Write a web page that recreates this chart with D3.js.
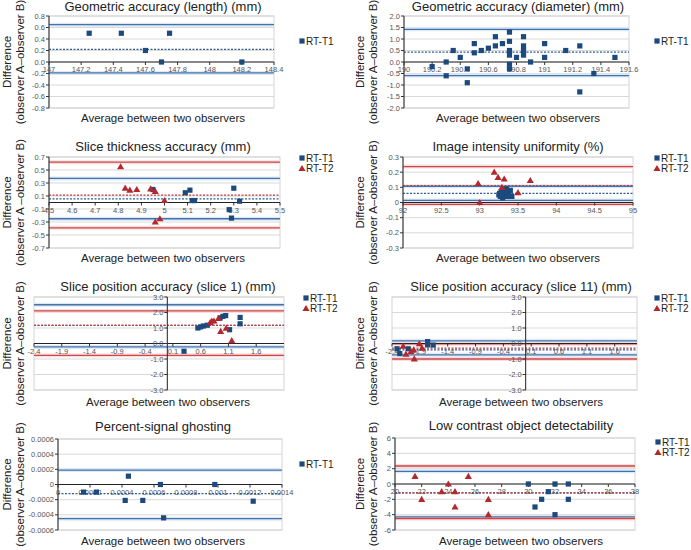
<!DOCTYPE html>
<html>
<head>
<meta charset="utf-8">
<script src="https://cdn.jsdelivr.net/npm/d3@7"></script>
<style>
  body { margin: 0; background: #fff; }
  text { font-family: "Liberation Sans", Arial, sans-serif; }
</style>
</head>
<body>
<svg id="chart" width="691" height="550"></svg>
<script>
// data: [average, difference]
const lengthT1 = [[147.25,0.5],[147.45,0.5],[147.6,0.2],[147.7,0],[147.75,0.5],[148.2,0]];
const lengthLimT1 = [0.65, 0.22, -0.19];   // upper, mean, lower

const diameterT1 = [[190.2,-0.2],[190.3,0],[190.3,-0.6],[190.35,0.5],[190.4,0.2],[190.45,-0.3],[190.45,-0.9],
  [190.5,0.8],[190.5,0.4],[190.55,0.5],[190.6,0.6],[190.65,1.1],[190.65,0.7],[190.7,0.8],[190.75,1.3],[190.75,0.9],
  [190.75,0.5],[190.75,0.3],[190.75,-0.1],[190.75,-0.3],[190.8,0.2],[190.85,1.1],[190.85,0.7],[190.85,0.5],
  [190.85,0.3],[190.9,0],[191,0.8],[191,0.2],[191.15,0.5],[191.25,0.7],[191.25,-1.3],[191.35,-0.5],[191.5,0.2]];
const diameterLimT1 = [1.42, 0.43, -0.59];

const thickT1 = [[4.95,0.2],[5.09,0.15],[5.11,0.19],[5.12,0.03],[5.13,0.03],[5.28,-0.11],[5.29,-0.24],[5.3,0.22],[5.325,0.02]];
const thickT2 = [[4.81,0.55],[4.83,0.22],[4.85,0.19],[4.88,0.2],[4.94,0.21],[4.96,0.17],[5.0,0.03],[4.96,-0.3],[4.98,-0.25]];
const thickLimT1 = [0.37, 0.055, -0.25];
const thickLimT2 = [0.62, 0.115, -0.39];

const unifT1 = [[93.25,0.05],[93.26,0.06],[93.27,0.04],[93.28,0.07],[93.3,0.05],[93.32,0.08],[93.33,0.06],
  [93.35,0.09],[93.37,0.07],[93.38,0.05],[93.4,0.08],[93.42,0.04],[93.3,0.03],[93.36,0.04]];
const unifT2 = [[92.98,0.125],[93.0,0.0],[93.19,0.2],[93.24,0.165],[93.32,0.155],[93.29,0.1],[93.5,0.065],[93.66,0.145]];
const unifLimT1 = [0.107, 0.06, 0.014];
const unifLimT2 = [0.237, 0.112, -0.012];

const slice1T1 = [[0.3,-0.5],[0.55,1.0],[0.6,1.07],[0.65,1.13],[0.72,1.18],[0.95,1.65],[1.0,1.75],[1.05,1.8],[1.12,0.89],[1.31,1.68],[1.31,1.27]];
const slice1T2 = [[0.77,1.35],[0.8,1.45],[0.84,1.45],[0.92,1.62],[0.96,0.78],[1.06,0.99],[1.16,0.18]];
const slice1LimT1 = [2.5, 1.17, -0.22];
const slice1LimT2 = [2.1, 1.17, -0.76];

const slice11T1 = [[-2.31,-0.34],[-2.26,-0.65],[-2.11,-0.34],[-1.76,0.12],[-1.76,-0.09],[-1.66,-0.1]];
const slice11T2 = [[-2.2,-0.17],[-2.15,-0.69],[-2.06,-0.52],[-2.01,-0.41],[-2.0,-0.99],[-1.91,-0.02],[-1.86,-0.3]];
const slice11LimT1 = [0.17, -0.41, -0.73];
const slice11LimT2 = [-0.02, -0.3, -1.0];

const ghostT1 = [[0.00016,-0.0001],[0.00024,-0.0001],[0.00044,0.00011],[0.00042,-0.00021],[0.00053,-0.00021],
  [0.00064,0],[0.00066,-0.00044],[0.00098,0],[0.00122,-0.00022]];
const ghostLimT1 = [0.00019, -0.00012, -0.00045];

const lowT1 = [[30,0],[30.5,-3],[31,-2],[31.5,-1],[32,0],[32,-4],[33,0],[33,-2]];
const lowT2 = [[21.5,1],[22,-2],[23.5,-1],[24,0],[24.5,-1],[24.5,-3],[25.5,1],[27,-2],[27,-4]];
const lowLimT1 = [1.65, -1.17, -4.3];
const lowLimT2 = [2.35, -1.17, -4.5];

// tick values
const lengthXTicks = d3.range(0, 8).map(i => 147 + i * 0.2);
const lengthYTicks = d3.range(-4, 5).map(i => i * 0.2);
const diameterXTicks = d3.range(0, 9).map(i => 190 + i * 0.2);
const diameterYTicks = d3.range(-4, 5).map(i => i * 0.5);
const thickXTicks = d3.range(0, 11).map(i => 4.5 + i * 0.1);
const thickYTicks = d3.range(0, 8).map(i => -0.7 + i * 0.2);
const unifXTicks = d3.range(0, 7).map(i => 92 + i * 0.5);
const unifYTicks = d3.range(-3, 4).map(i => i * 0.1);
const sliceXTicks = d3.range(0, 9).map(i => -2.4 + i * 0.5);
const sliceYTicks = d3.range(-3, 4);
const ghostXTicks = d3.range(0, 8).map(i => i * 0.0002);
const ghostYTicks = d3.range(-3, 4).map(i => i * 0.0002);
const lowXTicks = d3.range(20, 39, 2);
const lowYTicks = d3.range(-6, 7, 2);

const blue = { pt: "#1d4a7d", line: "#4273aa", halo: "#dfe9f5", mean: "#2d5c97" };
const red = { pt: "#b2282e", line: "#cf4749", halo: "#f7dede", mean: "#c23a3a" };

const gen = v => String(+v.toFixed(5));
const one = v => v.toFixed(1);

const panels = [
  { title: "Geometric accuracy (length) (mm)", box: [49, 16, 274, 108], xDom: [147, 148.4], yDom: [-0.8, 0.8],
    xTicks: lengthXTicks, yTicks: lengthYTicks, yFmt: one, yAt: null, tx: 163, ty: 11, atY: 122, lab: [7, 20],
    legend: [302, 41], series: [{ name: "RT-T1", pts: lengthT1, lim: lengthLimT1, c: blue, sq: true }] },
  { title: "Geometric accuracy (diameter) (mm)", box: [404, 16, 629, 108], xDom: [190, 191.6], yDom: [-2, 2],
    xTicks: diameterXTicks, yTicks: diameterYTicks, yFmt: one, yAt: null, tx: 518, ty: 11, atY: 122, lab: [360, 373],
    legend: [657, 41], series: [{ name: "RT-T1", pts: diameterT1, lim: diameterLimT1, c: blue, sq: true }] },
  { title: "Slice thickness accuracy (mm)", box: [49, 157, 280, 248], xDom: [4.5, 5.5], yDom: [-0.7, 0.7],
    xTicks: thickXTicks, yTicks: thickYTicks, yFmt: gen, yAt: null, tx: 163, ty: 151, atY: 262, lab: [7, 20],
    labText: "(observer A \u2013observer B)",
    legend: [302, 158], series: [
      { name: "RT-T1", pts: thickT1, lim: thickLimT1, c: blue, sq: true },
      { name: "RT-T2", pts: thickT2, lim: thickLimT2, c: red, sq: false }] },
  { title: "Image intensity uniformity (%)", box: [403, 157, 633, 248], xDom: [92, 95], yDom: [-0.3, 0.3],
    xTicks: unifXTicks, yTicks: unifYTicks, yFmt: gen, yAt: null, tx: 518, ty: 151, atY: 262, lab: [360, 373],
    legend: [657, 158], series: [
      { name: "RT-T1", pts: unifT1, lim: unifLimT1, c: blue, sq: true },
      { name: "RT-T2", pts: unifT2, lim: unifLimT2, c: red, sq: false }] },
  { title: "Slice position accuracy (slice 1) (mm)", box: [34, 297, 284, 390], xDom: [-2.4, 2.1], yDom: [-3, 3],
    xTicks: sliceXTicks, yTicks: sliceYTicks, yFmt: one, yAt: 0, tx: 168, ty: 291, atY: 406, lab: [7, 20],
    legend: [306, 298], series: [
      { name: "RT-T1", pts: slice1T1, lim: slice1LimT1, c: blue, sq: true },
      { name: "RT-T2", pts: slice1T2, lim: slice1LimT2, c: red, sq: false }] },
  { title: "Slice position accuracy (slice 11) (mm)", box: [392, 297, 637, 390], xDom: [-2.4, 2.0], yDom: [-3, 3],
    xTicks: sliceXTicks, yTicks: sliceYTicks, yFmt: one, yAt: 0, tx: 521, ty: 291, atY: 406, lab: [360, 373],
    legend: [657, 298], series: [
      { name: "RT-T1", pts: slice11T1, lim: slice11LimT1, c: blue, sq: true },
      { name: "RT-T2", pts: slice11T2, lim: slice11LimT2, c: red, sq: false }] },
  { title: "Percent-signal ghosting", box: [58, 439, 282, 530], xDom: [0, 0.0014], yDom: [-0.0006, 0.0006],
    xTicks: ghostXTicks, yTicks: ghostYTicks, yFmt: gen, yAt: null, tx: 163, ty: 431, atY: 545, lab: [7, 20],
    legend: [302, 464], series: [{ name: "RT-T1", pts: ghostT1, lim: ghostLimT1, c: blue, sq: true }] },
  { title: "Low contrast object detectability", box: [395, 438, 635, 530], xDom: [20, 38], yDom: [-6, 6],
    xTicks: lowXTicks, yTicks: lowYTicks, yFmt: gen, yAt: null, tx: 521, ty: 430, atY: 545, lab: [360, 373],
    legend: [658, 442], series: [
      { name: "RT-T1", pts: lowT1, lim: lowLimT1, c: blue, sq: true },
      { name: "RT-T2", pts: lowT2, lim: lowLimT2, c: red, sq: false }] }
];

const svg = d3.select("#chart");

function marker(g, x, y, s, sq) {
  if (sq) {
    g.append("rect").attr("x", x - 2.6).attr("y", y - 2.6).attr("width", 5.2).attr("height", 5.2)
      .attr("fill", s.c.pt);
  } else {
    g.append("path").attr("d", d3.symbol(d3.symbolTriangle, 22)())
      .attr("transform", `translate(${x},${y + 0.5})`).attr("fill", s.c.pt);
  }
}

panels.forEach(p => {
  const [x0, y0, x1, y1] = p.box;
  const x = d3.scaleLinear().domain(p.xDom).range([x0, x1]);
  const y = d3.scaleLinear().domain(p.yDom).range([y1, y0]);
  const g = svg.append("g");

  // gridlines + frame
  g.selectAll(".grid").data(p.yTicks).join("line")
    .attr("x1", x0).attr("x2", x1).attr("y1", d => y(d)).attr("y2", d => y(d))
    .attr("stroke", "#d9d9d9").attr("stroke-width", 1);
  g.append("rect").attr("x", x0).attr("y", y0).attr("width", x1 - x0).attr("height", y1 - y0)
    .attr("fill", "none").attr("stroke", "#d4d4d4");

  // limit lines (halo, then line); mean dotted
  p.series.forEach(s => {
    [s.lim[0], s.lim[2]].forEach(v => {
      g.append("line").attr("x1", x0).attr("x2", x1).attr("y1", y(v)).attr("y2", y(v))
        .attr("stroke", s.c.halo).attr("stroke-width", 4);
    });
  });
  p.series.forEach(s => {
    [s.lim[0], s.lim[2]].forEach(v => {
      g.append("line").attr("x1", x0).attr("x2", x1).attr("y1", y(v)).attr("y2", y(v))
        .attr("stroke", s.c.line).attr("stroke-width", 1.3);
    });
    g.append("line").attr("x1", x0).attr("x2", x1).attr("y1", y(s.lim[1])).attr("y2", y(s.lim[1]))
      .attr("stroke", s.c.mean).attr("stroke-width", 1.2).attr("stroke-dasharray", "2,1.5");
  });

  // axes
  const ax = p.yAt === null ? x0 : x(p.yAt);
  const zy = y(0);
  g.append("line").attr("x1", x0).attr("x2", x1).attr("y1", zy).attr("y2", zy)
    .attr("stroke", "#222").attr("stroke-width", 1.2);
  g.append("line").attr("x1", ax).attr("x2", ax).attr("y1", y0).attr("y2", y1)
    .attr("stroke", "#333").attr("stroke-width", 1.1);

  g.selectAll(".yt").data(p.yTicks).join("line")
    .attr("x1", ax - 3).attr("x2", ax).attr("y1", d => y(d)).attr("y2", d => y(d)).attr("stroke", "#333");
  g.selectAll(".yl").data(p.yTicks).join("text")
    .attr("x", ax - 4).attr("y", d => y(d)).attr("dy", "0.35em").attr("text-anchor", "end")
    .attr("font-size", 7.5).attr("fill", "#555").text(d => p.yFmt(d));

  g.selectAll(".xt").data(p.xTicks).join("line")
    .attr("x1", d => x(d)).attr("x2", d => x(d)).attr("y1", zy).attr("y2", zy + 3).attr("stroke", "#333");
  g.selectAll(".xl").data(p.xTicks).join("text")
    .attr("x", d => x(d)).attr("y", zy + 10).attr("text-anchor", "middle")
    .attr("font-size", 7.5).attr("fill", "#555").text(d => gen(d));

  // points
  p.series.forEach(s => {
    s.pts.forEach(d => marker(g, x(d[0]), y(d[1]), s, s.sq));
  });

  // titles
  g.append("text").attr("x", p.tx).attr("y", p.ty).attr("text-anchor", "middle")
    .attr("font-size", 13).attr("fill", "#222").text(p.title);
  g.append("text").attr("x", p.tx).attr("y", p.atY).attr("text-anchor", "middle")
    .attr("font-size", 11.5).attr("fill", "#222").text("Average between two observers");
  const cy = (y0 + y1) / 2;
  g.append("text").attr("transform", `translate(${p.lab[0] + 4},${cy}) rotate(-90)`)
    .attr("text-anchor", "middle").attr("font-size", 11.5).attr("fill", "#222").text("Difference");
  g.append("text").attr("transform", `translate(${p.lab[1] + 4},${cy}) rotate(-90)`)
    .attr("text-anchor", "middle").attr("font-size", 11.5).attr("fill", "#222")
    .text(p.labText || "(observer A\u2013observer B)");

  // legend
  p.series.forEach((s, i) => {
    const ly = p.legend[1] + i * 10.5;
    marker(g, p.legend[0], ly, s, s.sq);
    g.append("text").attr("x", p.legend[0] + 4).attr("y", ly).attr("dy", "0.36em")
      .attr("font-size", 10).attr("fill", "#222").text(s.name);
  });
});
</script>
</body>
</html>
